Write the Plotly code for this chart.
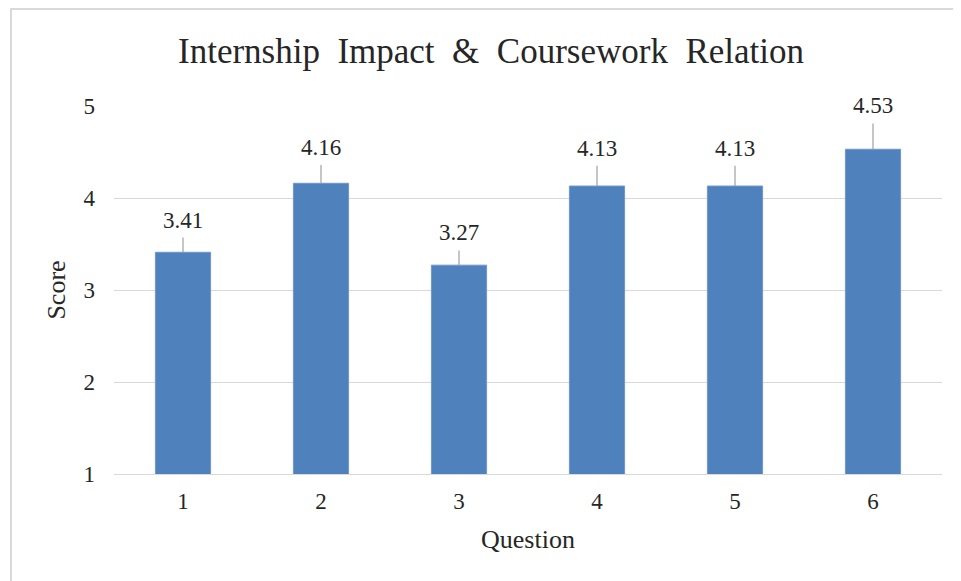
import plotly.graph_objects as go

questions = ["1", "2", "3", "4", "5", "6"]
scores = [3.41, 4.16, 3.27, 4.13, 4.13, 4.53]
errors = [0.16, 0.20, 0.16, 0.22, 0.22, 0.28]
y_ticks = [1, 2, 3, 4, 5]

FONT = "Liberation Serif"
TXT = "#262626"

# page body adds an 8px offset, so the figure is drawn 8px smaller
OFF = 8
W, H = 961 - OFF, 581 - OFF
ML, MR, MT, MB = 106, 19, 98, 107
pw, ph = W - ML - MR, H - MT - MB


def px_x(p):
    return (p - OFF - ML) / pw


def px_y(p):
    return (H - MB - (p - OFF)) / ph


fig = go.Figure()
fig.add_trace(go.Bar(
    x=questions, y=scores, width=0.4,
    marker=dict(color="#4F81BD", line=dict(color="#7396c8", width=1)),
    error_y=dict(type="data", symmetric=False, array=errors,
                 arrayminus=[0] * len(errors), color="#a0a0a0",
                 thickness=1.2, width=0),
    hoverinfo="x+y",
))

annotations = []
for i, (s, e) in enumerate(zip(scores, errors)):
    annotations.append(dict(x=i, y=s + e, xref="x", yref="y", text=f"{s:.2f}",
                            showarrow=False, yanchor="bottom", yshift=3,
                            font=dict(family=FONT, size=23, color=TXT)))

annotations.append(dict(x=px_x(491), y=px_y(52), xref="paper", yref="paper",
                        text="Internship  Impact  &  Coursework  Relation",
                        showarrow=False, xanchor="center", yanchor="middle",
                        font=dict(family=FONT, size=35, color=TXT)))

fig.update_layout(
    width=W, height=H,
    margin=dict(l=ML, r=MR, t=MT, b=MB),
    paper_bgcolor="white", plot_bgcolor="white",
    showlegend=False,
    annotations=annotations,
    shapes=[dict(type="rect", xref="paper", yref="paper",
                 x0=px_x(11), x1=px_x(975), y0=px_y(595), y1=px_y(9),
                 line=dict(color="#d9d9d9", width=2), layer="below")],
    xaxis=dict(
        type="category", showgrid=False, showline=True, linecolor="#d9d9d9",
        linewidth=1, ticks="", ticklabelstandoff=6,
        tickfont=dict(family=FONT, size=23, color=TXT),
        title=dict(text="Question", font=dict(family=FONT, size=26, color=TXT),
                   standoff=17),
    ),
    yaxis=dict(
        range=[1, 5], tickvals=y_ticks, showgrid=True, gridcolor="#d9d9d9",
        gridwidth=1, zeroline=False, ticks="", ticklabelstandoff=18,
        tickfont=dict(family=FONT, size=23, color=TXT),
        title=dict(text="Score", font=dict(family=FONT, size=26, color=TXT),
                   standoff=10),
    ),
)

fig.write_html("out.html")
